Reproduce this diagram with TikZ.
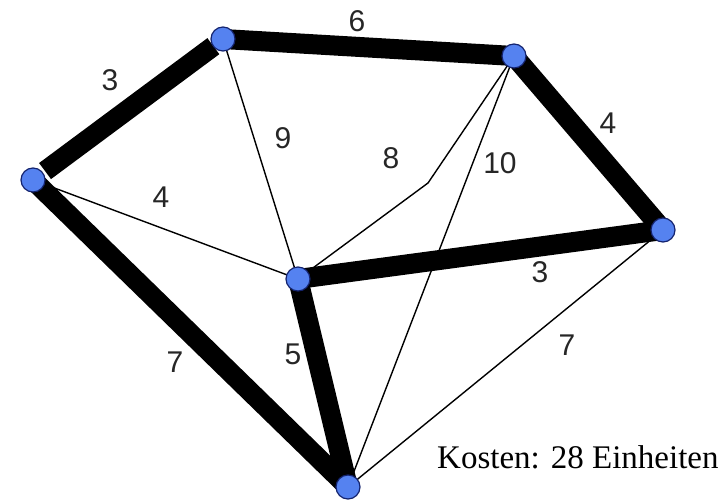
\documentclass[tikz,border=0pt]{standalone}
\usepackage{fontspec}
\setmainfont{Liberation Serif}
\newfontfamily\labelfont{Liberation Sans}
\definecolor{nodeblue}{RGB}{85,130,240}
\definecolor{nodeedge}{RGB}{20,35,110}
\begin{document}
\begin{tikzpicture}[x=1pt,y=-1pt,
  vertex/.style={circle,fill=nodeblue,draw=nodeedge,line width=1.2pt,minimum size=24pt,inner sep=0pt},
  thinedge/.style={line width=1.4pt,black},
  thickedge/.style={line width=20pt,black,line cap=butt},
  weight/.style={font=\labelfont\fontsize{30}{30}\selectfont,inner sep=0pt,text=black!85}
]
\useasboundingbox (0,0) rectangle (721,501);
% node positions
\coordinate (pA) at (223,39);
\coordinate (pB) at (514,56);
\coordinate (pC) at (33,180);
\coordinate (pD) at (663,230);
\coordinate (pE) at (298,279);
\coordinate (pF) at (348,487);
\coordinate (bend) at (428,183);
% thin edges
\draw[thinedge] (pA) -- (pE);
\draw[thinedge] (pC) -- (pE);
\draw[thinedge] (pE) -- (bend) -- (pB);
\draw[thinedge] (pB) -- (pF);
\draw[thinedge] (pD) -- (pF);
% thick edges (spanning tree)
\draw[thickedge,shorten <=15pt,shorten >=12pt] (pC) -- (pA);
\draw[thickedge] (pA) -- (pB);
\draw[thickedge,shorten <=6pt,shorten >=6pt] (pB) -- (pD);
\draw[thickedge] (pE) -- (pD);
\draw[thickedge] (pE) -- (pF);
\draw[thickedge] (pC) -- (pF);
% vertices
\node[vertex] (A) at (pA) {};
\node[vertex] (B) at (pB) {};
\node[vertex] (C) at (pC) {};
\node[vertex] (D) at (pD) {};
\node[vertex] (E) at (pE) {};
\node[vertex] (F) at (pF) {};
% weights
\node[weight] (w1) at (110,80) {3};
\node[weight] (w2) at (357,21) {6};
\node[weight] (w3) at (283,138) {9};
\node[weight] (w4) at (161,197) {4};
\node[weight] (w5) at (391,158) {8};
\node[weight] (w6) at (500,163) {10};
\node[weight] (w7) at (608,123) {4};
\node[weight] (w8) at (540,272) {3};
\node[weight] (w9) at (567,345) {7};
\node[weight] (w10) at (175,362) {7};
\node[weight] (w11) at (293,354) {5};
% cost text
\node[anchor=base west,inner sep=0pt,font=\fontsize{33}{33}\selectfont] (cost) at (437,468) {Kosten: 28 Einheiten};
\end{tikzpicture}
\end{document}
